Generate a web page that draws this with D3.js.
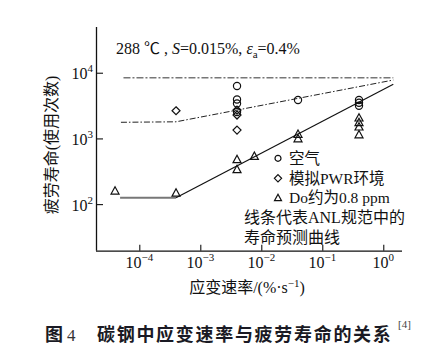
<!DOCTYPE html>
<html><head><meta charset="utf-8">
<script src="https://cdn.jsdelivr.net/npm/d3@7"></script>
<style>
html,body{margin:0;padding:0;background:#fff;}
svg{display:block;}
.serif{font-family:"Liberation Serif","Times New Roman","Noto Sans CJK SC",serif;}
</style></head>
<body>
<svg id="chart" width="446" height="356"></svg>
<script>
// ---- data ----
const xTicks = [1e-4, 1e-3, 1e-2, 1e-1, 1e0];
const xTickExp = ["\u22124", "\u22123", "\u22122", "\u22121", "0"];
const yTicks = [1e2, 1e3, 1e4];
const yTickExp = ["2", "3", "4"];

// air (circles): [strain rate %/s, life]
const airRate = [0.004, 0.004, 0.004, 0.004, 0.04, 0.4, 0.4, 0.4];
const airLife = [6280, 3910, 3400, 2520, 3840, 3840, 3490, 3150];
// simulated PWR (diamonds)
const pwrRate = [0.0004, 0.004, 0.004, 0.004];
const pwrLife = [2640, 2700, 2270, 1340];
// DO ~0.8 ppm (triangles)
const doRate = [0.00004, 0.0004, 0.004, 0.004, 0.0077, 0.04, 0.04, 0.4, 0.4, 0.4, 0.4];
const doLife = [160, 149, 481, 339, 540, 1170, 1000, 2070, 1760, 1510, 1150];

// ANL model curves
const doFlatRate = [4.84e-5, 4e-4];
const doFlatLife = [125, 125];
const doRiseRate = [4e-4, 1.46];
const doRiseLife = [125, 6660];
const airCurveRate = [5.5e-5, 1.46];
const airCurveLife = [8390, 8390];
const pwrCurveRate = [5e-5, 4e-4, 1.46];
const pwrCurveLife = [1760, 1790, 7740];

const legendLabels = ["空气", "模拟PWR环境", "Do约为0.8 ppm"];
const noteLines = ["线条代表ANL规范中的", "寿命预测曲线"];
const xLabel = "应变速率/(%·s";
const yLabel = "疲劳寿命(使用次数)";
const captionFig = "图";
const captionNum = "4";
const captionText = "碳钢中应变速率与疲劳寿命的关系";

// ---- chart ----
const svg = d3.select("#chart");
const pLeft = 96, pRight = 402, pTop = 27, pBottom = 250.7;
const x = d3.scaleLog().domain([Math.pow(10, -4.71), Math.pow(10, 0.307)]).range([pLeft, pRight]);
const y = d3.scaleLog().domain([Math.pow(10, 1.291), Math.pow(10, 4.696)]).range([pBottom, pTop]);

const zip = (a, b) => a.map((v, i) => [v, b[i]]);
const line = d3.line().x(d => x(d[0])).y(d => y(d[1]));

// axes
const xAxis = d3.axisBottom(x).tickValues(xTicks).tickSizeInner(-6).tickSizeOuter(0).tickFormat(() => "");
const yAxis = d3.axisLeft(y).tickValues(yTicks).tickSizeInner(-7).tickSizeOuter(0).tickFormat(() => "");

const gx = svg.append("g").attr("transform", `translate(0,${pBottom})`).call(xAxis);
const gy = svg.append("g").attr("transform", `translate(${pLeft},0)`).call(yAxis);
[gx, gy].forEach(g => {
  g.select(".domain").attr("stroke", "#111").attr("stroke-width", 1.3);
  g.selectAll(".tick line").attr("stroke", "#111").attr("stroke-width", 1.1);
});
gx.select(".domain").attr("d", `M${pLeft},0.5H${pRight}`);
gy.select(".domain").attr("d", `M0.5,${pTop}V${pBottom}`);

// x tick labels
xTicks.forEach((t, i) => {
  const tx = svg.append("text").attr("class", "serif").attr("x", x(t)).attr("y", 268)
    .attr("text-anchor", "middle").attr("font-size", 16).attr("fill", "#111");
  tx.append("tspan").text("10");
  tx.append("tspan").attr("dy", -7).attr("font-size", 11).text(xTickExp[i]);
});
// y tick labels
yTicks.forEach((t, i) => {
  const tx = svg.append("text").attr("class", "serif").attr("x", 93).attr("y", y(t) + 6.5)
    .attr("text-anchor", "end").attr("font-size", 16).attr("fill", "#111");
  tx.append("tspan").text("10");
  tx.append("tspan").attr("dy", -7).attr("font-size", 11).text(yTickExp[i]);
});

// axis titles
const xl = svg.append("text").attr("class", "serif").attr("x", 247).attr("y", 293)
  .attr("text-anchor", "middle").attr("font-size", 16).attr("fill", "#111");
xl.append("tspan").text(xLabel);
xl.append("tspan").attr("dy", -6).attr("font-size", 11).text("\u22121");
xl.append("tspan").attr("dy", 6).text(")");

svg.append("text").attr("class", "serif")
  .attr("transform", `translate(57,145) rotate(-90)`)
  .attr("text-anchor", "middle").attr("font-size", 16).attr("fill", "#111").text(yLabel);

// condition text
const ct = svg.append("text").attr("class", "serif").attr("x", 116).attr("y", 54)
  .attr("font-size", 16).attr("fill", "#111");
ct.append("tspan").text("288 \u2103 , ");
ct.append("tspan").attr("font-style", "italic").text("S");
ct.append("tspan").text("=0.015%, ");
ct.append("tspan").attr("font-style", "italic").text("\u03b5");
ct.append("tspan").attr("dy", 4).attr("font-size", 11).text("a");
ct.append("tspan").attr("dy", -4).text("=0.4%");

// curves
svg.append("path").attr("d", line(zip(airCurveRate, airCurveLife)))
  .attr("fill", "none").attr("stroke", "#777").attr("stroke-width", 1.6).attr("stroke-dasharray", "7,2,2,2");
svg.append("path").attr("d", line(zip(pwrCurveRate, pwrCurveLife)))
  .attr("fill", "none").attr("stroke", "#222").attr("stroke-width", 1).attr("stroke-dasharray", "6,2,1.5,2");
svg.append("path").attr("d", line(zip(doFlatRate, doFlatLife)))
  .attr("fill", "none").attr("stroke", "#777").attr("stroke-width", 2);
svg.append("path").attr("d", line(zip(doRiseRate, doRiseLife)))
  .attr("fill", "none").attr("stroke", "#111").attr("stroke-width", 1.2);

// markers
const sym = (type, size) => d3.symbol().type(type).size(size)();
const diamondPath = (h) => `M0,${-h}L${h},0L0,${h}L${-h},0Z`;
const triPath = (w) => `M0,${-w*0.5}L${w/2},${w*0.42}L${-w/2},${w*0.42}Z`;

function drawPoints(rates, lives, pathStr) {
  svg.append("g").selectAll("path").data(zip(rates, lives)).join("path")
    .attr("transform", d => `translate(${x(d[0])},${y(d[1])})`)
    .attr("d", pathStr).attr("fill", "none").attr("stroke", "#111").attr("stroke-width", 1.2);
}
drawPoints(airRate, airLife, sym(d3.symbolCircle, Math.PI * 3.6 * 3.6));
drawPoints(pwrRate, pwrLife, diamondPath(4));
drawPoints(doRate, doLife, triPath(8));

// legend
const legPaths = [sym(d3.symbolCircle, Math.PI * 3 * 3), diamondPath(3.6), triPath(7)];
const legY = [158.3, 178.3, 197.7];
legendLabels.forEach((lab, i) => {
  svg.append("path").attr("transform", `translate(278,${legY[i]})`).attr("d", legPaths[i])
    .attr("fill", "none").attr("stroke", "#111").attr("stroke-width", 1.2);
  svg.append("text").attr("class", "serif").attr("x", 289).attr("y", legY[i] + 5.5)
    .attr("font-size", 15.5).attr("fill", "#111").text(lab);
});
noteLines.forEach((t, i) => {
  svg.append("text").attr("class", "serif").attr("x", 244).attr("y", 223 + i * 19.5)
    .attr("font-size", 16).attr("fill", "#111").text(t);
});

// caption
svg.append("text").attr("x", 45).attr("y", 341).attr("font-family", "'Noto Sans CJK SC',sans-serif")
  .attr("font-weight", "bold").attr("font-size", 18).attr("fill", "#1a1a24").text(captionFig);
svg.append("text").attr("class", "serif").attr("x", 67).attr("y", 341)
  .attr("font-size", 17).attr("fill", "#333").text(captionNum);
svg.append("text").attr("x", 97).attr("y", 341).attr("font-family", "'Noto Sans CJK SC',sans-serif")
  .attr("font-weight", "bold").attr("font-size", 18).attr("letter-spacing", 1.7)
  .attr("fill", "#1a1a24").text(captionText);
svg.append("text").attr("class", "serif").attr("x", 398).attr("y", 328)
  .attr("font-size", 11).attr("fill", "#444").text("[4]");
</script>
</body></html>
